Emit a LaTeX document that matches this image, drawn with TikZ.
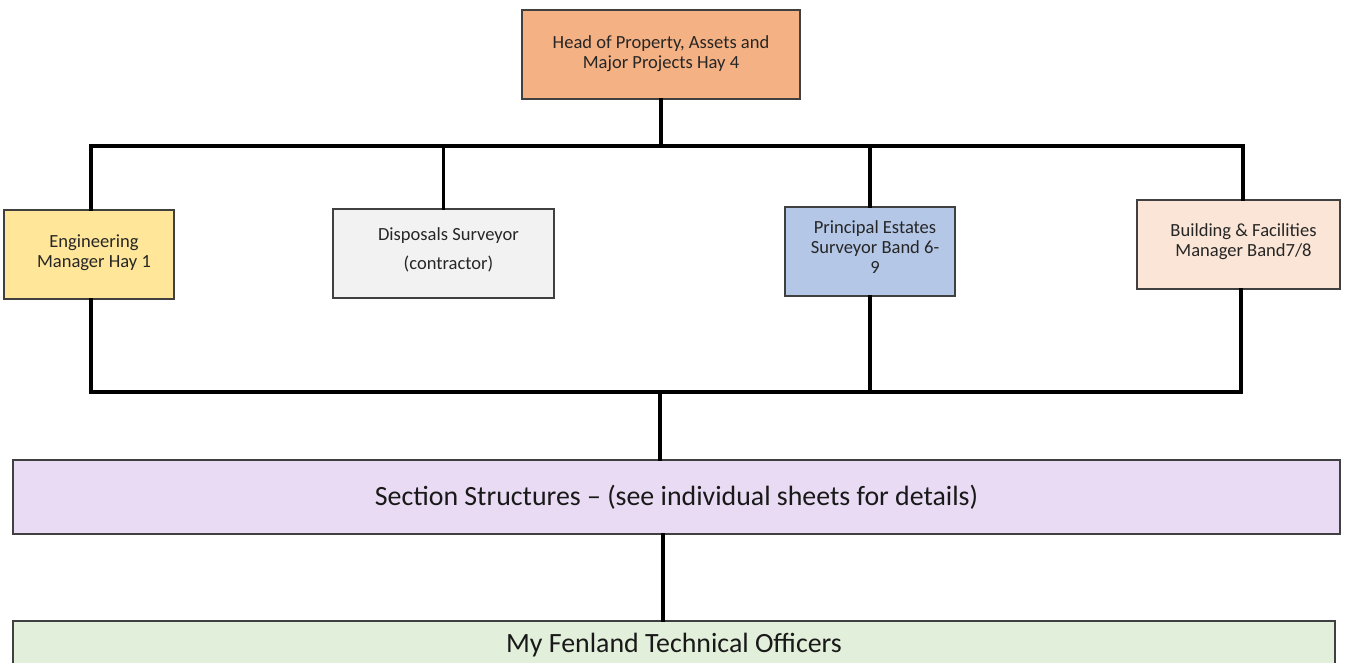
\documentclass[tikz,border=0pt]{standalone}
\usepackage{fontspec}
\setmainfont{Carlito}
\usetikzlibrary{fit}
\definecolor{headc}{HTML}{F4B183}
\definecolor{engc}{HTML}{FFE699}
\definecolor{dispc}{HTML}{F2F2F2}
\definecolor{princc}{HTML}{B4C7E7}
\definecolor{buildc}{HTML}{FBE5D6}
\definecolor{sectc}{HTML}{E8DBF3}
\definecolor{fenc}{HTML}{E2EFDA}
\definecolor{edgec}{HTML}{404040}
\begin{document}
\begin{tikzpicture}[x=0.75pt,y=-0.75pt,
  box/.style={draw=edgec,line width=0.8pt,inner sep=0pt},
  lbl/.style={font=\fontsize{13.9}{15}\selectfont,align=center,text=black!85,xshift=3.75pt,yshift=3pt},
  big/.style={font=\fontsize{20.9}{24}\selectfont,text=black!90},
  conn/.style={line width=2.3pt,black,line cap=rect}]
\clip (0,0) rectangle (1345,662);
\fill[white] (0,0) rectangle (1345,662);

\node[box,fill=headc,fit={(522,10)(800,99)},
  label={[lbl,xshift=-3.75pt,yshift=-2.25pt]center:Head of Property, Assets and\\Major Projects Hay 4}] (head) {};
\node[box,fill=engc,fit={(4,210)(174,299)},
  label={[lbl,yshift=-1.5pt]center:Engineering\\Manager Hay 1}] (eng) {};
\node[box,fill=dispc,fit={(333,209)(554,298)},
  label={[lbl,font=\fontsize{13.9}{21.75}\selectfont]center:Disposals Surveyor\\(contractor)}] (disp) {};
\node[box,fill=princc,fit={(785,207)(955,296)},
  label={[lbl]center:Principal Estates\\Surveyor Band 6-\\9}] (princ) {};
\node[box,fill=buildc,fit={(1137,200)(1340,289)},
  label={[lbl,yshift=-0.75pt]center:Building \& Facilities\\Manager Band7/8}] (build) {};
\node[box,fill=sectc,fit={(13,460)(1340,534)},
  label={[big]center:Section Structures – (see individual sheets for details)}] (sect) {};
\node[box,fill=fenc,fit={(13,621)(1335,672)},
  label={[big,yshift=1pt]center:My Fenland Technical Officers}] (fen) {};

\coordinate (btl) at (91,146);
\coordinate (btr) at (1243,146);
\coordinate (bt) at (661,146);
\coordinate (bbl) at (91,392);
\coordinate (bbr) at (1241,392);
\coordinate (bb) at (660,392);
\coordinate (sf) at (663,580);

\draw[conn] (head.south) -- (bt);
\draw[conn] (btl |- eng.north) -- (btl) -- (btr) -- (btr |- build.north);
\draw[conn] (disp.north) -- (disp.north |- bt);
\draw[conn] (princ.north) -- (princ.north |- bt);
\draw[conn] (bbl |- eng.south) -- (bbl) -- (bbr) -- (bbr |- build.south);
\draw[conn] (princ.south) -- (princ.south |- bbl);
\draw[conn] (bb) -- (bb |- sect.north);
\draw[conn] (sf |- sect.south) -- (sf |- fen.north);
\end{tikzpicture}
\end{document}
